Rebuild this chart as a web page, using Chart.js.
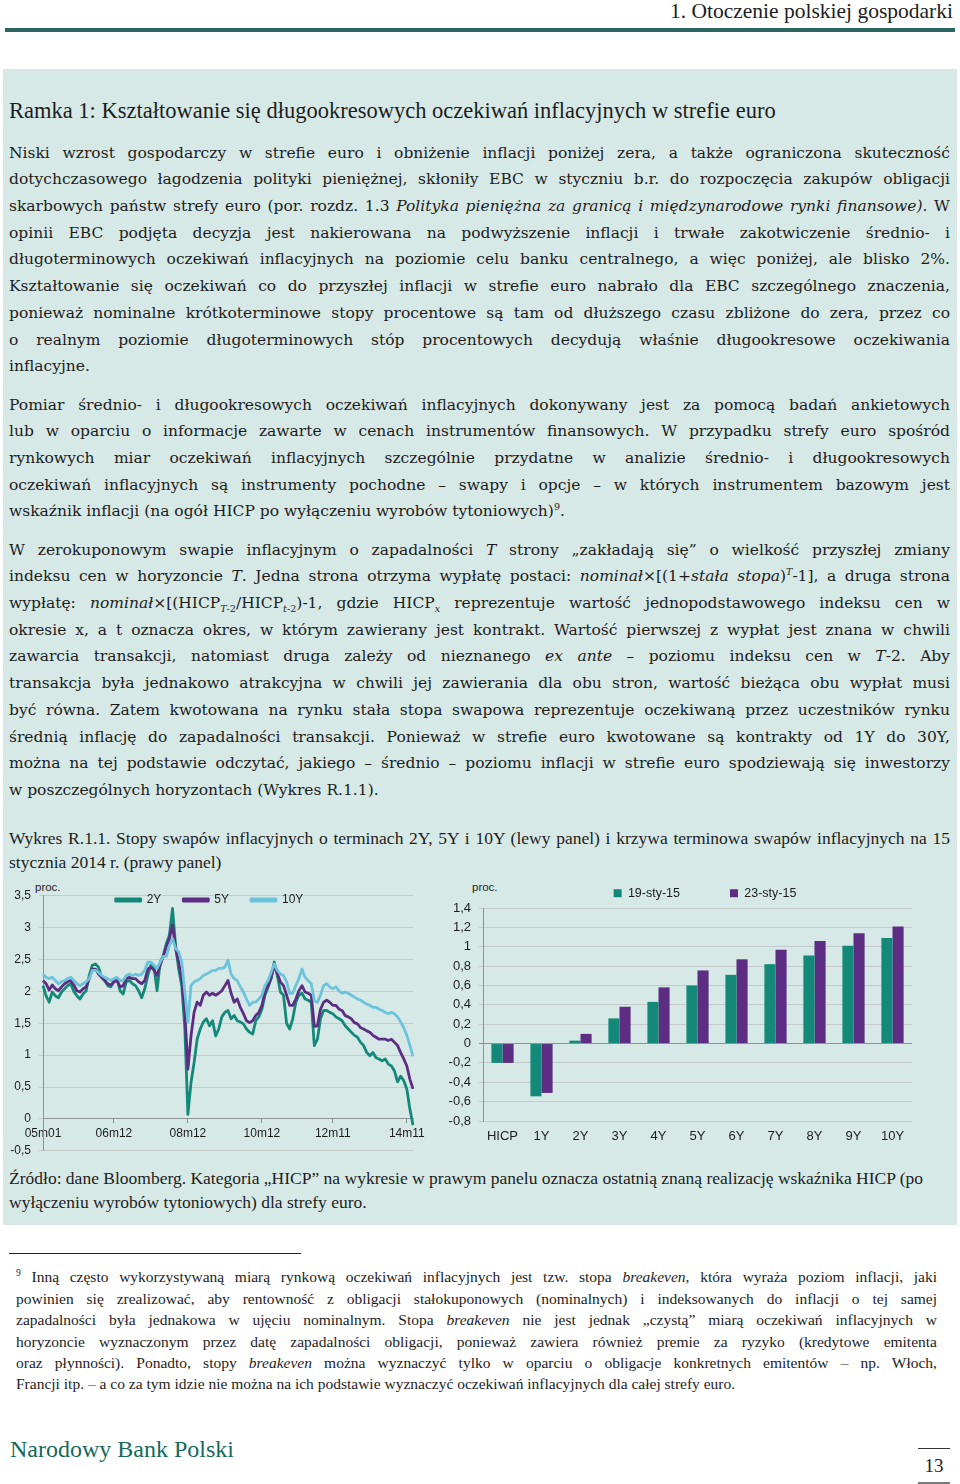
<!DOCTYPE html>
<html lang="pl">
<head>
<meta charset="utf-8">
<title>Ramka 1 – swapy inflacyjne w strefie euro</title>
<script src="https://cdn.jsdelivr.net/npm/chart.js@4.4.1/dist/chart.umd.min.js"></script>
<style>
  html, body { margin: 0; padding: 0; background: #fff; }
  body { width: 960px; height: 1484px; position: relative; overflow: hidden; color: #1d1d1d; }
  .abs { position: absolute; }
  .head  { right: 7px; top: -2px; font: 21.5px/26px 'Liberation Serif', serif; }
  .rule  { left: 5px; top: 28px; width: 950px; height: 4px; background: #2b6661; }
  .box   { left: 3px; top: 69px; width: 954px; height: 1156px; background: #d7e9e6; }
  .title { left: 9px; top: 97px; font: 22.5px/28px 'Liberation Serif', serif; white-space: nowrap; }
  .para  { left: 9px; width: 941px; font-family: 'DejaVu Serif', serif; font-size: 15.5px; line-height: 26.7px; }
  .cap   { left: 9px; width: 941px; font-family: 'Liberation Serif', serif; font-size: 17.5px; line-height: 24.5px; }
  .foot  { left: 16px; width: 921px; font-family: 'Liberation Serif', serif; font-size: 15.5px; line-height: 21.4px; }
  .ln { text-align: justify; text-align-last: justify; }
  .ln.end, .ln.left { text-align: left; text-align-last: left; }
  sup, sub { font-size: 0.62em; line-height: 0; }
  .fnrule { left: 9px; top: 1253px; width: 292px; height: 1px; background: #222; }
  .nbp   { left: 10px; top: 1434px; font: 24px/30px 'Liberation Serif', serif; color: #13695d; }
  .pg    { left: 918px; top: 1448px; width: 32px; height: 33px; border-top: 1px solid #333; border-bottom: 4px solid #7a7a7a; text-align: center; font: 19px/33px 'Liberation Serif', serif; }
  .proc  { font: 11.5px/14px 'Liberation Sans', sans-serif; color: #1d1d1d; }
  canvas { position: absolute; }
</style>
</head>
<body>
<div class="abs head">1. Otoczenie polskiej gospodarki</div>
<div class="abs rule"></div>
<div class="abs box"></div>

<div class="abs title">Ramka 1: Kształtowanie się długookresowych oczekiwań inflacyjnych w strefie euro</div>

<div class="abs para" style="top:139.6px">
  <div class="ln">Niski wzrost gospodarczy w strefie euro i obniżenie inflacji poniżej zera, a także ograniczona skuteczność</div>
  <div class="ln">dotychczasowego łagodzenia polityki pieniężnej, skłoniły EBC w styczniu b.r. do rozpoczęcia zakupów obligacji</div>
  <div class="ln">skarbowych państw strefy euro (por. rozdz. 1.3 <i>Polityka pieniężna za granicą i międzynarodowe rynki finansowe).</i> W</div>
  <div class="ln">opinii EBC podjęta decyzja jest nakierowana na podwyższenie inflacji i trwałe zakotwiczenie średnio- i</div>
  <div class="ln">długoterminowych oczekiwań inflacyjnych na poziomie celu banku centralnego, a więc poniżej, ale blisko 2%.</div>
  <div class="ln">Kształtowanie się oczekiwań co do przyszłej inflacji w strefie euro nabrało dla EBC szczególnego znaczenia,</div>
  <div class="ln">ponieważ nominalne krótkoterminowe stopy procentowe są tam od dłuższego czasu zbliżone do zera, przez co</div>
  <div class="ln">o realnym poziomie długoterminowych stóp procentowych decydują właśnie długookresowe oczekiwania</div>
  <div class="ln end">inflacyjne.</div>
</div>

<div class="abs para" style="top:391.6px">
  <div class="ln">Pomiar średnio- i długookresowych oczekiwań inflacyjnych dokonywany jest za pomocą badań ankietowych</div>
  <div class="ln">lub w oparciu o informacje zawarte w cenach instrumentów finansowych. W przypadku strefy euro spośród</div>
  <div class="ln">rynkowych miar oczekiwań inflacyjnych szczególnie przydatne w analizie średnio- i długookresowych</div>
  <div class="ln">oczekiwań inflacyjnych są instrumenty pochodne – swapy i opcje – w których instrumentem bazowym jest</div>
  <div class="ln end">wskaźnik inflacji (na ogół HICP po wyłączeniu wyrobów tytoniowych)<sup>9</sup>.</div>
</div>

<div class="abs para" style="top:536.6px">
  <div class="ln">W zerokuponowym swapie inflacyjnym o zapadalności <i>T</i> strony „zakładają się” o wielkość przyszłej zmiany</div>
  <div class="ln">indeksu cen w horyzoncie <i>T</i>. Jedna strona otrzyma wypłatę postaci: <i>nominał</i>×[(1+<i>stała stopa</i>)<sup><i>T</i></sup>-1], a druga strona</div>
  <div class="ln">wypłatę: <i>nominał</i>×[(HICP<sub><i>T</i>-2</sub>/HICP<sub><i>t</i>-2</sub>)-1, gdzie HICP<sub><i>x</i></sub> reprezentuje wartość jednopodstawowego indeksu cen w</div>
  <div class="ln">okresie x, a t oznacza okres, w którym zawierany jest kontrakt. Wartość pierwszej z wypłat jest znana w chwili</div>
  <div class="ln">zawarcia transakcji, natomiast druga zależy od nieznanego <i>ex ante</i> – poziomu indeksu cen w <i>T</i>-2. Aby</div>
  <div class="ln">transakcja była jednakowo atrakcyjna w chwili jej zawierania dla obu stron, wartość bieżąca obu wypłat musi</div>
  <div class="ln">być równa. Zatem kwotowana na rynku stała stopa swapowa reprezentuje oczekiwaną przez uczestników rynku</div>
  <div class="ln">średnią inflację do zapadalności transakcji. Ponieważ w strefie euro kwotowane są kontrakty od 1Y do 30Y,</div>
  <div class="ln">można na tej podstawie odczytać, jakiego – średnio – poziomu inflacji w strefie euro spodziewają się inwestorzy</div>
  <div class="ln end">w poszczególnych horyzontach (Wykres R.1.1).</div>
</div>

<div class="abs cap" style="top:825.8px">
  <div class="ln">Wykres R.1.1. Stopy swapów inflacyjnych o terminach 2Y, 5Y i 10Y (lewy panel) i krzywa terminowa swapów inflacyjnych na 15</div>
  <div class="ln end">stycznia 2014 r. (prawy panel)</div>
</div>

<span class="abs proc" style="left:35px;top:880px">proc.</span>
<span class="abs proc" style="left:472px;top:880px">proc.</span>
<canvas id="chart-swaps" width="440" height="294" style="left:0;top:872px"></canvas>
<canvas id="chart-curve" width="520" height="314" style="left:440px;top:837px"></canvas>

<div class="abs cap" style="top:1165.5px">
  <div class="ln left">Źródło: dane Bloomberg. Kategoria „HICP” na wykresie w prawym panelu oznacza ostatnią znaną realizację wskaźnika HICP (po</div>
  <div class="ln end">wyłączeniu wyrobów tytoniowych) dla strefy euro.</div>
</div>

<div class="abs fnrule"></div>
<div class="abs foot" style="top:1266.3px">
  <div class="ln"><sup>9</sup> Inną często wykorzystywaną miarą rynkową oczekiwań inflacyjnych jest tzw. stopa <i>breakeven</i>, która wyraża poziom inflacji, jaki</div>
  <div class="ln">powinien się zrealizować, aby rentowność z obligacji stałokuponowych (nominalnych) i indeksowanych do inflacji o tej samej</div>
  <div class="ln">zapadalności była jednakowa w ujęciu nominalnym. Stopa <i>breakeven</i> nie jest jednak „czystą” miarą oczekiwań inflacyjnych w</div>
  <div class="ln">horyzoncie wyznaczonym przez datę zapadalności obligacji, ponieważ zawiera również premie za ryzyko (kredytowe emitenta</div>
  <div class="ln">oraz płynności). Ponadto, stopy <i>breakeven</i> można wyznaczyć tylko w oparciu o obligacje konkretnych emitentów – np. Włoch,</div>
  <div class="ln end">Francji itp. – a co za tym idzie nie można na ich podstawie wyznaczyć oczekiwań inflacyjnych dla całej strefy euro.</div>
</div>

<div class="abs nbp">Narodowy Bank Polski</div>
<div class="abs pg">13</div>

<script>
/**
 * Wykres R.1.1 — inflation swap rates (left) and the swap term curve (right).
 * Left panel: monthly readings, Jan 2005 – Jan 2015.
 */

// ---- left panel: 2Y / 5Y / 10Y zero-coupon inflation swaps (%) ----
const X_TICKS = ['05m01', '06m12', '08m12', '10m12', '12m11', '14m11'];

const SWAP_2Y = [
  2.09, 1.93, 1.83, 1.99, 1.93, 1.90, 1.99, 2.04, 2.09, 2.12, 2.00, 1.93,
  1.88, 1.96, 2.01, 2.25, 2.41, 2.43, 2.38, 2.22, 2.17, 2.09, 2.07, 2.15,
  2.20, 2.01, 1.96, 2.15, 2.17, 2.12, 2.09, 2.01, 1.90, 2.04, 2.25, 2.41,
  2.38, 2.01, 2.46, 2.56, 2.75, 2.88, 3.30, 2.72, 2.35, 2.09, 1.41, 0.07,
  0.57, 0.88, 1.25, 1.41, 1.52, 1.57, 1.46, 1.54, 1.30, 1.41, 1.60, 1.67,
  1.70, 1.57, 1.62, 1.54, 1.52, 1.49, 1.41, 1.36, 1.33, 1.54, 1.60, 1.72,
  1.94, 2.07, 2.20, 2.46, 2.25, 1.99, 1.94, 1.50, 1.41, 1.57, 1.83, 1.94,
  1.97, 1.88, 1.86, 1.83, 1.15, 1.25, 1.57, 1.70, 1.70, 1.67, 1.65, 1.60,
  1.57, 1.54, 1.46, 1.41, 1.36, 1.31, 1.28, 1.20, 1.15, 1.04, 0.99, 1.04,
  0.96, 0.94, 0.91, 0.94, 0.86, 0.83, 0.75, 0.58, 0.67, 0.60, 0.47, 0.15,
  -0.10,
];
const SWAP_5Y = [
  2.17, 2.12, 2.02, 2.10, 2.04, 2.01, 2.07, 2.12, 2.15, 2.17, 2.10, 2.01,
  1.99, 2.04, 2.07, 2.20, 2.35, 2.35, 2.27, 2.22, 2.17, 2.12, 2.10, 2.15,
  2.17, 2.07, 2.09, 2.20, 2.22, 2.20, 2.20, 2.15, 2.12, 2.17, 2.35, 2.38,
  2.33, 2.25, 2.41, 2.55, 2.70, 2.83, 3.04, 2.67, 2.46, 2.20, 1.67, 0.78,
  1.30, 1.67, 1.83, 1.78, 1.94, 1.99, 1.94, 1.97, 1.94, 1.97, 2.01, 2.09,
  2.17, 1.97, 1.83, 1.88, 1.75, 1.65, 1.54, 1.51, 1.54, 1.62, 1.67, 1.78,
  1.99, 2.09, 2.22, 2.41, 2.27, 2.15, 2.09, 1.94, 1.78, 1.78, 1.88, 2.01,
  2.09, 1.99, 1.97, 1.94, 1.45, 1.46, 1.72, 1.83, 1.86, 1.83, 1.78, 1.78,
  1.72, 1.70, 1.62, 1.60, 1.57, 1.51, 1.49, 1.43, 1.41, 1.38, 1.36, 1.31,
  1.28, 1.25, 1.25, 1.25, 1.23, 1.25, 1.20, 1.15, 1.04, 0.94, 0.83, 0.62,
  0.47,
];
const SWAP_10Y = [
  2.27, 2.22, 2.20, 2.22, 2.17, 2.12, 2.15, 2.17, 2.20, 2.22, 2.17, 2.12,
  2.09, 2.12, 2.15, 2.20, 2.33, 2.33, 2.30, 2.25, 2.22, 2.20, 2.17, 2.20,
  2.22, 2.17, 2.17, 2.25, 2.27, 2.25, 2.27, 2.25, 2.27, 2.33, 2.46, 2.46,
  2.41, 2.36, 2.46, 2.55, 2.55, 2.72, 2.83, 2.67, 2.62, 2.46, 1.99, 1.52,
  2.09, 2.15, 2.17, 2.20, 2.25, 2.27, 2.30, 2.33, 2.33, 2.36, 2.36, 2.38,
  2.49, 2.27, 2.20, 2.17, 2.07, 1.99, 1.88, 1.78, 1.83, 1.83, 1.88, 1.94,
  2.09, 2.17, 2.30, 2.43, 2.33, 2.27, 2.25, 2.15, 1.97, 1.97, 2.09, 2.20,
  2.35, 2.22, 2.17, 2.12, 1.85, 1.83, 1.94, 2.09, 2.12, 2.07, 2.04, 2.07,
  2.01, 1.97, 1.99, 1.97, 1.94, 1.91, 1.88, 1.86, 1.83, 1.80, 1.78, 1.75,
  1.75, 1.72, 1.70, 1.67, 1.65, 1.67, 1.65, 1.60, 1.52, 1.43, 1.31, 1.15,
  0.98,
];

// ---- right panel: swap term curve (%) ----
const TERMS = ['HICP', '1Y', '2Y', '3Y', '4Y', '5Y', '6Y', '7Y', '8Y', '9Y', '10Y'];
const CURVE_19_JAN = [-0.20, -0.545, 0.03, 0.26, 0.43, 0.60, 0.71, 0.82, 0.91, 1.01, 1.09];
const CURVE_23_JAN = [-0.20, -0.51, 0.10, 0.38, 0.58, 0.755, 0.87, 0.97, 1.06, 1.14, 1.21];
const CURVE_Y_TICKS = [-0.8, -0.6, -0.4, -0.2, 0, 0.2, 0.4, 0.6, 0.8, 1, 1.2, 1.4];

const COLOR_TEAL   = '#14897a';
const COLOR_PURPLE = '#5c2d83';
const COLOR_LIGHT  = '#6cc4dc';
const GRID_COLOR   = '#c3cccb';
const AXIS_COLOR   = '#8e9494';
const TEXT_COLOR   = '#1d1d1d';
const FONT_FAMILY  = "'Liberation Sans', Arial, sans-serif";

// fit each typeset line on one row (the page is set with fixed line breaks)
document.querySelectorAll('.ln').forEach(el => {
  const lh = parseFloat(getComputedStyle(el).lineHeight);
  let fs = parseFloat(getComputedStyle(el).fontSize);
  while (el.offsetHeight > lh * 1.5 && fs > 9) {
    fs -= 0.25;
    el.style.fontSize = fs + 'px';
  }
});

// month categories 05m01 … 15m01
const MONTHS = [];
for (let y = 2005; y <= 2015; y++) {
  for (let m = 1; m <= 12; m++) {
    if (MONTHS.length < SWAP_2Y.length) {
      MONTHS.push(String(y % 100).padStart(2, '0') + 'm' + String(m).padStart(2, '0'));
    }
  }
}

const fmtComma = v => String(Math.round(v * 10) / 10).replace('.', ',');

/**
 * Lets the legend overlap the top of the plot, as in the original,
 * optionally nudged sideways by dx pixels.
 */
function legendOverlap(height, dx = 0) {
  return {
    id: 'legendOverlap',
    beforeInit(chart) {
      const legend = chart.legend;
      const fit = legend.fit;
      const draw = legend.draw;
      legend.fit = function () { fit.call(this); this.height = height; };
      // v4 clips the legend to its box; widen the clip while drawing
      legend.draw = function () {
        const { bottom, left, right } = this;
        this.bottom = bottom + 80;
        this.left = left + dx;
        this.right = right + dx;
        draw.call(this);
        Object.assign(this, { bottom, left, right });
      };
    },
  };
}

function _lineSet(label, color, data, order) {
  return {
    label, data, order,
    borderColor: color,
    backgroundColor: color,
    borderWidth: 2.8,
    pointRadius: 0,
    tension: 0,
    borderJoinStyle: 'round',
  };
}

new Chart(document.getElementById('chart-swaps'), {
  type: 'line',
  data: {
    labels: MONTHS,
    datasets: [
      _lineSet('2Y', COLOR_TEAL, SWAP_2Y, 2),
      _lineSet('5Y', COLOR_PURPLE, SWAP_5Y, 1),
      _lineSet('10Y', COLOR_LIGHT, SWAP_10Y, 0),
    ],
  },
  options: {
    responsive: false,
    animation: false,
    layout: { padding: { top: 0, right: 27, bottom: 4.7, left: 0 } },
    plugins: {
      legend: {
        position: 'top',
        labels: {
          boxWidth: 25, boxHeight: 2, padding: 22, color: TEXT_COLOR,
          font: { family: FONT_FAMILY, size: 12 },
          sort: (a, b) => a.datasetIndex - b.datasetIndex,
        },
      },
      tooltip: { enabled: false },
    },
    scales: {
      x: {
        position: { y: 0 },
        grid: { drawOnChartArea: false, drawTicks: true, tickLength: 4, color: AXIS_COLOR },
        border: { color: AXIS_COLOR },
        ticks: {
          autoSkip: false, maxRotation: 0, padding: 4,
          color: TEXT_COLOR, font: { family: FONT_FAMILY, size: 12 },
          callback: (v, i) => (X_TICKS.includes(MONTHS[i]) ? MONTHS[i] : null),
        },
      },
      y: {
        min: -0.5, max: 3.5,
        grid: { color: GRID_COLOR, tickLength: 4 },
        border: { color: AXIS_COLOR },
        ticks: { stepSize: 0.5, padding: 8, color: TEXT_COLOR, font: { family: FONT_FAMILY, size: 12 }, callback: fmtComma },
        afterFit(scale) { scale.width = 43; },
      },
    },
  },
  plugins: [legendOverlap(23.7, 3)],
});

new Chart(document.getElementById('chart-curve'), {
  type: 'bar',
  data: {
    labels: TERMS,
    datasets: [
      { label: '19-sty-15', data: CURVE_19_JAN, backgroundColor: COLOR_TEAL, categoryPercentage: 0.57, barPercentage: 1 },
      { label: '23-sty-15', data: CURVE_23_JAN, backgroundColor: COLOR_PURPLE, categoryPercentage: 0.57, barPercentage: 1 },
    ],
  },
  options: {
    responsive: false,
    animation: false,
    layout: { padding: { top: 0, right: 48, bottom: 0, left: 0 } },
    plugins: {
      legend: {
        position: 'top',
        labels: { boxWidth: 8, boxHeight: 8, padding: 50, color: TEXT_COLOR, font: { family: FONT_FAMILY, size: 12.5 } },
      },
      tooltip: { enabled: false },
    },
    scales: {
      x: {
        grid: { display: false, drawTicks: false },
        border: { display: false },
        ticks: { padding: 8, color: TEXT_COLOR, font: { family: FONT_FAMILY, size: 13 } },
        afterFit(scale) { scale.height = 30; },
      },
      y: {
        min: -0.8, max: 1.4,
        grid: {
          tickLength: 4,
          color: ctx => (ctx.tick && Math.abs(ctx.tick.value) < 1e-9 ? AXIS_COLOR : GRID_COLOR),
        },
        border: { color: AXIS_COLOR },
        ticks: { padding: 8, color: TEXT_COLOR, font: { family: FONT_FAMILY, size: 13 }, callback: fmtComma },
        afterBuildTicks(scale) { scale.ticks = CURVE_Y_TICKS.map(value => ({ value })); },
        afterFit(scale) { scale.width = 43; },
      },
    },
  },
  plugins: [legendOverlap(71, 29)],
});
</script>
</body>
</html>
